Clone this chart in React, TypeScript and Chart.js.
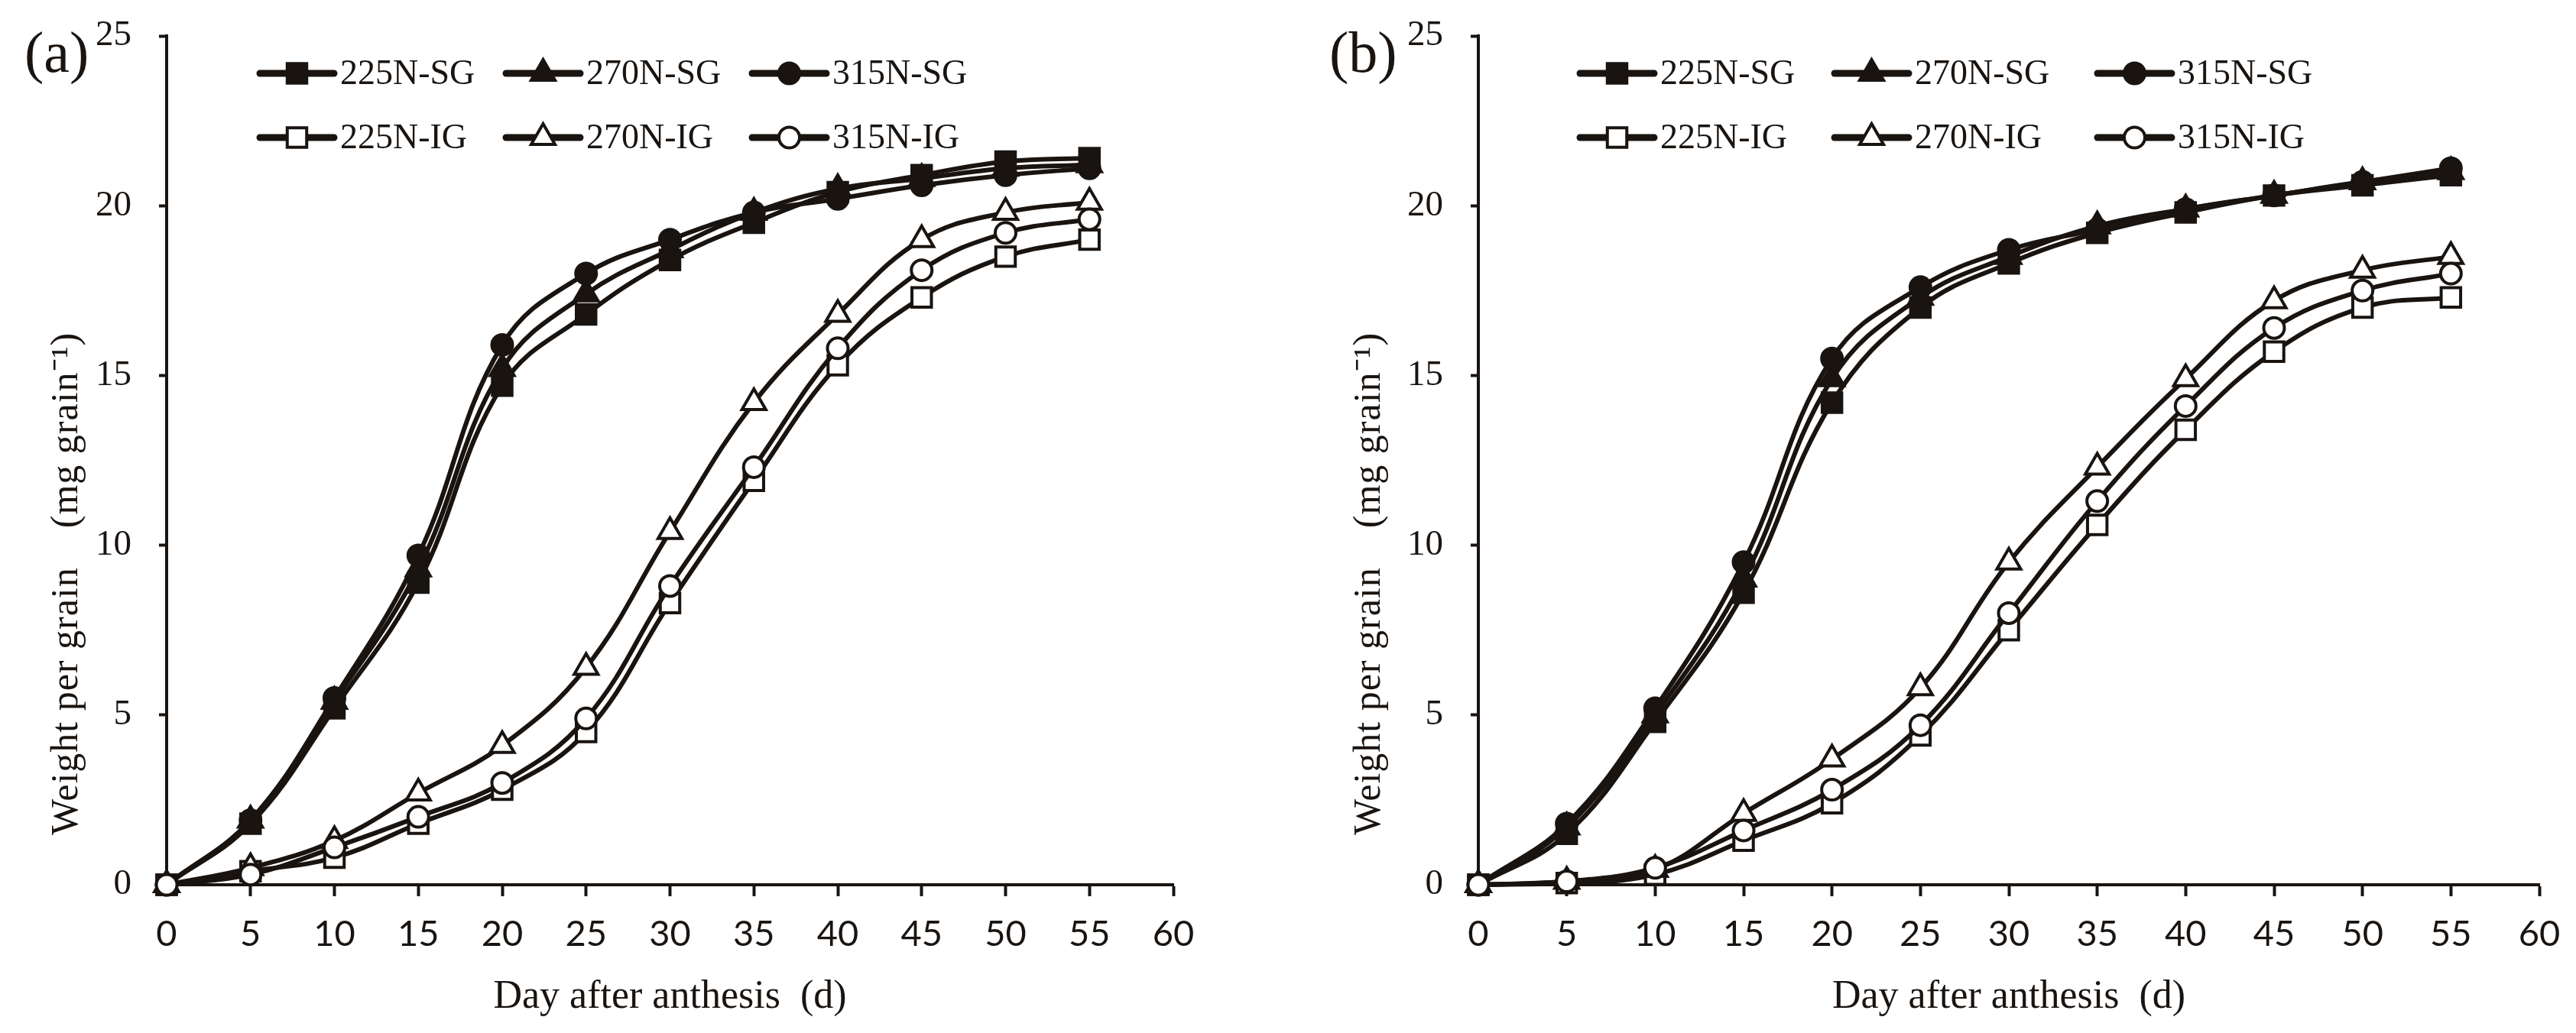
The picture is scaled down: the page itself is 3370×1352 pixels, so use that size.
import { useEffect, useRef } from 'react'
import { Chart, registerables } from 'chart.js'
import { drawPoint } from 'chart.js/helpers'

Chart.register(...registerables)

// dias após a antese (eixo x)
const days = [0, 5, 10, 15, 20, 25, 30, 35, 40, 45, 50, 55]

const seriesLabels = ['225N-SG', '270N-SG', '315N-SG', '225N-IG', '270N-IG', '315N-IG']

// painel (a)
const sgA225 = [0, 1.8, 5.2, 8.9, 14.7, 16.8, 18.4, 19.5, 20.4, 20.9, 21.3, 21.4]
const sgA270 = [0, 1.9, 5.4, 9.3, 15.2, 17.4, 18.7, 19.8, 20.5, 20.8, 21.1, 21.2]
const sgA315 = [0, 1.9, 5.5, 9.7, 15.9, 18.0, 19.0, 19.8, 20.2, 20.6, 20.9, 21.1]
const igA225 = [0, 0.4, 0.8, 1.8, 2.8, 4.5, 8.3, 11.9, 15.3, 17.3, 18.5, 19.0]
const igA270 = [0, 0.5, 1.3, 2.7, 4.1, 6.4, 10.4, 14.2, 16.8, 19.0, 19.8, 20.1]
const igA315 = [0, 0.3, 1.1, 2.0, 3.0, 4.9, 8.8, 12.3, 15.8, 18.1, 19.2, 19.6]

// painel (b)
const sgB225 = [0, 1.5, 4.8, 8.6, 14.2, 17.0, 18.3, 19.2, 19.8, 20.3, 20.6, 20.9]
const sgB270 = [0, 1.7, 5.0, 9.0, 14.9, 17.3, 18.5, 19.4, 19.9, 20.3, 20.7, 21.0]
const sgB315 = [0, 1.8, 5.2, 9.5, 15.5, 17.6, 18.7, 19.3, 19.9, 20.3, 20.7, 21.1]
const igB225 = [0, 0.05, 0.3, 1.3, 2.4, 4.4, 7.5, 10.6, 13.4, 15.7, 17.0, 17.3]
const igB270 = [0, 0.1, 0.45, 2.1, 3.7, 5.8, 9.5, 12.3, 14.9, 17.2, 18.1, 18.5]
const igB315 = [0, 0.1, 0.5, 1.6, 2.8, 4.7, 8.0, 11.3, 14.1, 16.4, 17.5, 18.0]

const xTicks = { min: 0, max: 60, step: 5 }
const yTicks = { min: 0, max: 25, step: 5 }

const xTitle = 'Day after anthesis\u2002(d)'
const yTitle = 'Weight per grain\u2003(mg grain⁻¹)'

const INK = '#1a1410'
const SERIF = '"Liberation Serif", "Noto Sans CJK SC", serif'
const SANS = 'Lato, "Noto Sans", sans-serif'

const markerStyles = ['rect', 'triangle', 'circle', 'rect', 'triangle', 'circle']
const markerRadius = [18, 18, 13.5, 18, 18, 13.5]

const W = 1685
const H = 1352

// desenha legenda, letra do painel e título do eixo y
const panelDecor = {
  id: 'panelDecor',
  afterDraw(chart: any, _args: any, opts: any) {
    const { ctx, chartArea } = chart
    ctx.save()

    // legenda em duas linhas
    chart.data.datasets.forEach((ds: any, i: number) => {
      const row = i < 3 ? 0 : 1
      const col = i % 3
      const x0 = chartArea.left + opts.legendCols[col]
      const y = opts.legendRows[row]
      const len = 97
      ctx.strokeStyle = ds.borderColor
      ctx.lineWidth = 9
      ctx.lineCap = 'round'
      ctx.beginPath()
      ctx.moveTo(x0, y)
      ctx.lineTo(x0 + len, y)
      ctx.stroke()
      ctx.fillStyle = ds.pointBackgroundColor
      ctx.strokeStyle = ds.pointBorderColor
      ctx.lineWidth = ds.pointBorderWidth
      drawPoint(ctx, {
        pointStyle: ds.pointStyle,
        radius: ds.pointRadius,
        borderWidth: ds.pointBorderWidth,
        rotation: 0,
      } as any, x0 + len / 2, y)
      ctx.fillStyle = INK
      ctx.font = `46px ${SERIF}`
      ctx.textAlign = 'left'
      ctx.textBaseline = 'middle'
      ctx.fillText(ds.label, x0 + len + 8, y + 2)
    })

    // letra do painel
    ctx.fillStyle = INK
    ctx.font = `76px ${SERIF}`
    ctx.textAlign = 'left'
    ctx.textBaseline = 'middle'
    ctx.fillText(opts.panel, chartArea.left - opts.panelDx, 74)

    // título do eixo y
    ctx.translate(chartArea.left - opts.yTitleDx, 1093)
    ctx.rotate(-Math.PI / 2)
    ctx.font = `50px ${SERIF}`
    ;(ctx as any).letterSpacing = '1px'
    ctx.textAlign = 'left'
    ctx.textBaseline = 'middle'
    ctx.fillText(yTitle, 0, 0)
    ctx.restore()
  },
}

interface PanelProps {
  series: number[][]
  panel: string
  left: number
  right: number
  panelDx: number
  yTitleDx: number
  legendCols: number[]
}

function GrainPanel({ series, panel, left, right, panelDx, yTitleDx, legendCols }: PanelProps) {
  const chartRef = useRef<HTMLCanvasElement>(null)
  const chartInstance = useRef<Chart | null>(null)

  useEffect(() => {
    if (!chartRef.current) return
    if (chartInstance.current) chartInstance.current.destroy()

    const ctx = chartRef.current.getContext('2d')
    if (!ctx) return

    const datasets = series.map((values, i) => ({
      label: seriesLabels[i],
      data: values.map((v, k) => ({ x: days[k], y: v })),
      borderColor: INK,
      borderWidth: 6,
      tension: 0.4,
      pointStyle: markerStyles[i],
      pointRadius: markerRadius[i],
      pointBorderWidth: 4,
      pointBorderColor: INK,
      pointBackgroundColor: i < 3 ? INK : '#ffffff',
      clip: false as any,
      order: 5 - i,
    }))

    chartInstance.current = new Chart(ctx, {
      type: 'line',
      data: { datasets },
      plugins: [panelDecor],
      options: {
        animation: false,
        responsive: false,
        devicePixelRatio: 1,
        layout: { padding: { left: 0, right: W - right, top: 47, bottom: 0 } },
        plugins: {
          legend: { display: false },
          tooltip: { enabled: false },
          panelDecor: { panel, panelDx, yTitleDx, legendCols, legendRows: [96, 180] },
        } as any,
        scales: {
          x: {
            type: 'linear',
            min: xTicks.min,
            max: xTicks.max,
            afterFit: (scale: any) => {
              scale.height = H - 1158
              scale.paddingLeft = 0
              scale.paddingRight = 0
            },
            ticks: {
              stepSize: xTicks.step,
              color: INK,
              padding: 22,
              maxRotation: 0,
              font: { family: SANS, size: 47 },
            },
            grid: {
              drawOnChartArea: false,
              drawTicks: true,
              tickLength: 15,
              tickWidth: 4,
              tickColor: INK,
            },
            border: { display: true, color: INK, width: 4 },
            title: {
              display: true,
              text: xTitle,
              color: INK,
              font: { family: SERIF, size: 52 },
              padding: { top: 0, bottom: 15 },
            },
          },
          y: {
            min: yTicks.min,
            max: yTicks.max,
            afterFit: (scale: any) => {
              scale.width = left
              scale.paddingTop = 0
              scale.paddingBottom = 0
            },
            ticks: {
              stepSize: yTicks.step,
              color: INK,
              padding: 36,
              font: { family: SERIF, size: 47 },
            },
            grid: {
              drawOnChartArea: false,
              drawTicks: true,
              tickLength: 10,
              tickWidth: 4,
              tickColor: INK,
            },
            border: { display: true, color: INK, width: 4 },
          },
        },
      },
    })

    return () => {
      if (chartInstance.current) {
        chartInstance.current.destroy()
        chartInstance.current = null
      }
    }
  }, [series, panel, left, right, panelDx, yTitleDx, legendCols])

  return <canvas ref={chartRef} width={W} height={H} style={{ display: 'block', width: W, height: H }} />
}

const panelASeries = [sgA225, sgA270, sgA315, igA225, igA270, igA315]
const panelBSeries = [sgB225, sgB270, sgB315, igB225, igB270, igB315]
const colsA = [122, 444, 766]
const colsB = [133, 466, 810]

export default function App() {
  return (
    <div style={{ position: 'absolute', left: 0, top: 0, width: 2 * W, height: H, display: 'flex', background: '#fff' }}>
      <GrainPanel series={panelASeries} panel="(a)" left={218} right={1535} panelDx={186} yTitleDx={130} legendCols={colsA} />
      <GrainPanel series={panelBSeries} panel="(b)" left={249} right={1637} panelDx={195} yTitleDx={142} legendCols={colsB} />
    </div>
  )
}
